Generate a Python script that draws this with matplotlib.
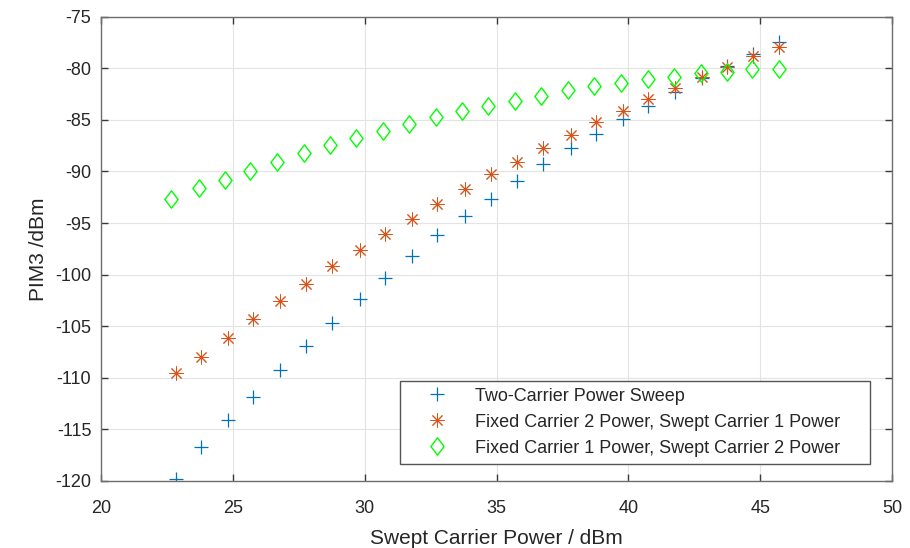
import matplotlib
matplotlib.use("Agg")
import matplotlib.pyplot as plt
from matplotlib.path import Path

plt.rcParams['font.family'] = ['Liberation Sans', 'DejaVu Sans']
plt.rcParams['axes.unicode_minus'] = False

# Data
x_sweep = [22.84, 23.81, 24.81, 25.76, 26.77, 27.79, 28.78, 29.81, 30.79, 31.78,
           32.76, 33.79, 34.80, 35.79, 36.76, 37.81, 38.76, 39.78, 40.76, 41.76,
           42.79, 43.76, 44.74, 45.72]
x_fixed1 = [22.66, 23.72, 24.70, 25.66, 26.68, 27.70, 28.69, 29.67, 30.70, 31.70,
            32.70, 33.70, 34.67, 35.70, 36.70, 37.71, 38.71, 39.71, 40.74, 41.74,
            42.74, 43.73, 44.69, 45.70]
two_carrier = [-119.78, -116.71, -114.08, -111.88, -109.25, -106.93, -104.71, -102.39,
               -100.29, -98.20, -96.20, -94.34, -92.66, -90.89, -89.25, -87.73,
               -86.35, -84.93, -83.64, -82.26, -80.97, -79.75, -78.65, -77.43]
fixed_c2 = [-109.54, -107.96, -106.13, -104.29, -102.55, -100.87, -99.20, -97.62,
            -96.04, -94.59, -93.14, -91.69, -90.28, -89.08, -87.73, -86.44,
            -85.16, -84.13, -82.97, -81.93, -80.84, -79.85, -78.78, -77.91]
fixed_c1 = [-92.63, -91.59, -90.79, -89.92, -89.12, -88.21, -87.48, -86.76,
            -86.06, -85.41, -84.73, -84.13, -83.64, -83.13, -82.68, -82.10,
            -81.71, -81.42, -81.03, -80.87, -80.48, -80.40, -80.10, -80.07]
labels = ["Two-Carrier Power Sweep",
          "Fixed Carrier 2 Power, Swept Carrier 1 Power",
          "Fixed Carrier 1 Power, Swept Carrier 2 Power"]
xticks = [20, 25, 30, 35, 40, 45, 50]
yticks = [-120, -115, -110, -105, -100, -95, -90, -85, -80, -75]

fig = plt.figure(figsize=(9.1, 5.48), dpi=100)
ax = fig.add_axes([101/910, 1-481/548, (892-101)/910, (481-16.7)/548])

diamond = Path([(0, 1), (0.76, 0), (0, -1), (-0.76, 0), (0, 1)],
               [Path.MOVETO, Path.LINETO, Path.LINETO, Path.LINETO, Path.CLOSEPOLY])

ax.plot(x_sweep, two_carrier, linestyle='none', marker='+', markersize=10,
        markeredgewidth=0.9, color='#0072BD', label=labels[0])
ax.plot(x_sweep, fixed_c2, linestyle='none', marker=(8, 2, 0), markersize=10,
        markeredgewidth=0.7, color='#D95319', label=labels[1])
ax.plot(x_fixed1, fixed_c1, linestyle='none', marker=diamond, markersize=12.5,
        markeredgewidth=1.0, markerfacecolor='none', markeredgecolor='#00FF00',
        label=labels[2])

ax.set_xlim(20, 50)
ax.set_ylim(-120, -75)
ax.set_xticks(xticks)
ax.set_yticks(yticks)
ax.grid(True, color='#e3e3e3', linewidth=0.8)
ax.set_axisbelow(True)
for s in ax.spines.values():
    s.set_color('#6e6e6e')
    s.set_linewidth(1.0)
ax.tick_params(direction='in', length=5, width=1.0, color='#3a3a3a',
               top=True, right=True, labelsize=13, labelcolor='#262626')
ax.tick_params(axis='x', pad=14)
ax.tick_params(axis='y', pad=7)
ax.set_xlabel("Swept Carrier Power / dBm", fontsize=15, color='#262626', labelpad=8)
ax.set_ylabel("PIM3 /dBm", fontsize=15, color='#262626')
ax.yaxis.set_label_coords(-0.067, 0.5)

leg = ax.legend(loc='lower left',
                bbox_to_anchor=(400/910, 1-464/548, 470/910, 0.15),
                bbox_transform=fig.transFigure, mode='expand',
                borderaxespad=0, fontsize=13,
                fancybox=False, framealpha=1, edgecolor='#555555',
                handlelength=3.3, handletextpad=0.45, borderpad=0.4,
                labelspacing=0.5)
leg.get_frame().set_linewidth(1.0)
for t in leg.get_texts():
    t.set_color('#262626')

fig.savefig("out.png", dpi=100)
